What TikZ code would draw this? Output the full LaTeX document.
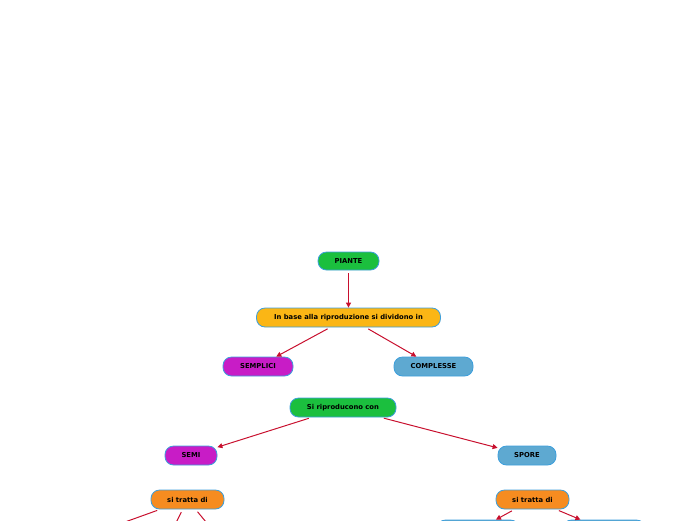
\documentclass[tikz,border=0pt]{standalone}
\usepackage{fontspec}
\setmainfont{DejaVu Sans}
\usetikzlibrary{arrows.meta}
\definecolor{cgreen}{HTML}{1BBF3E}
\definecolor{cyellow}{HTML}{FBB615}
\definecolor{cmag}{HTML}{C81CC6}
\definecolor{cblue}{HTML}{5EA9D1}
\definecolor{corange}{HTML}{F68C20}
\definecolor{cborder}{HTML}{3D9FDC}
\definecolor{carrow}{HTML}{C8102E}
\tikzset{
  box/.style={draw=cborder, line width=0.8pt, rounded corners=8.5pt, minimum height=19pt,
    inner sep=0pt, font=\fontsize{6.8}{7}\selectfont\bfseries, text=black},
  conn/.style={draw=carrow, line width=1pt, -{Triangle[length=5pt,width=5pt]}, shorten <=3pt},
  plain/.style={draw=carrow, line width=1pt, shorten <=3pt}
}
\begin{document}
\begin{tikzpicture}[x=1pt,y=-1pt]
\useasboundingbox (0,0) rectangle (696,520);
\clip (0,0) rectangle (696,520);
\node[box, fill=cgreen, minimum width=61pt, minimum height=18pt] (piante) at (348.5,261) {PIANTE};
\node[box, fill=cyellow, minimum width=184pt] (base) at (348.5,317.5) {In base alla riproduzione si dividono in};
\node[box, fill=cmag, minimum width=70pt] (sempl) at (258,366.5) {SEMPLICI};
\node[box, fill=cblue, minimum width=79pt] (compl) at (433.5,366.5) {COMPLESSE};
\node[box, fill=cgreen, minimum width=106pt] (ripr) at (343,407.5) {Si riproducono con};
\node[box, fill=cmag, minimum width=52pt] (semi) at (191,455.5) {SEMI};
\node[box, fill=cblue, minimum width=58pt] (spore) at (527,455.5) {SPORE};
\node[box, fill=corange, minimum width=73pt] (tratL) at (187.5,499.5) {si tratta di};
\node[box, fill=corange, minimum width=73pt] (tratR) at (532.5,499.5) {si tratta di};
\node[box, fill=cblue, minimum width=82pt] (childR1) at (478,529.5) {};
\node[box, fill=cblue, minimum width=82pt] (childR2) at (604,529.5) {};
\coordinate (childL1) at (100,531);
\coordinate (childL2) at (170,535);
\coordinate (childL3) at (215,533);

\draw[conn] (piante) -- (base);
\draw[conn] (base) -- (sempl);
\draw[conn] (base) -- (compl);
\draw[conn] (ripr) -- (semi);
\draw[conn] (ripr) -- (spore);
\draw[plain] (tratL) -- (childL1);
\draw[plain] (tratL) -- (childL2);
\draw[plain] (tratL) -- (childL3);
\draw[conn] (tratR) -- (childR1);
\draw[conn] (tratR) -- (childR2);
\end{tikzpicture}
\end{document}
